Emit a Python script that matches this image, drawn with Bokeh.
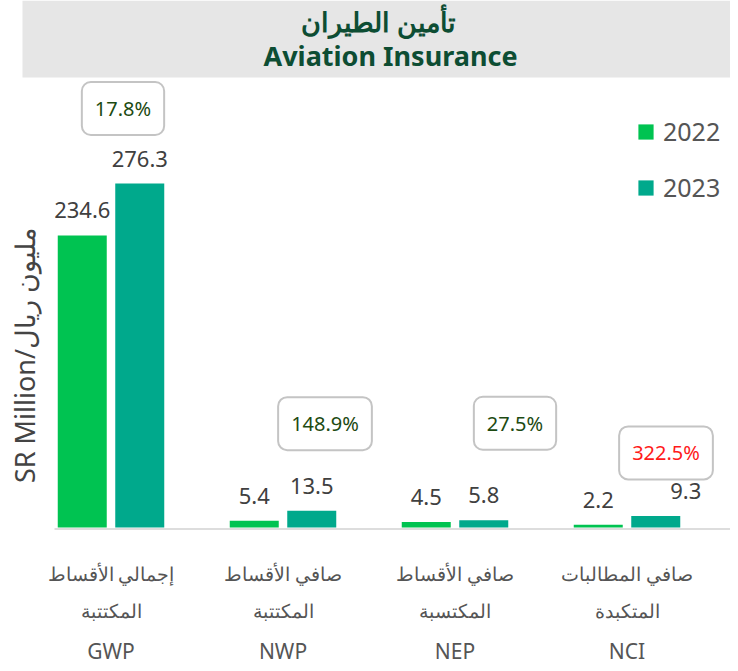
import math
from bokeh.plotting import figure
from bokeh.models import Range1d, ColumnDataSource, Label
from bokeh.core.properties import value
from bokeh.embed import file_html
from bokeh.resources import INLINE

# ---------------- data ----------------
codes = ["GWP", "NWP", "NEP", "NCI"]
names_ar_1 = ["إجمالي الأقساط", "صافي الأقساط", "صافي الأقساط", "صافي المطالبات"]
names_ar_2 = ["المكتتبة", "المكتتبة", "المكتسبة", "المتكبدة"]
values_2022 = [234.6, 5.4, 4.5, 2.2]
values_2023 = [276.3, 13.5, 5.8, 9.3]
growth = ["17.8%", "148.9%", "27.5%", "322.5%"]
growth_colors = ["#1d4a12", "#1d4a12", "#1d4a12", "#ff1a1a"]
title_ar = "تأمين الطيران"
title_en = "Aviation Insurance"
y_title = "SR Million/مليون ريال"

# ---------------- layout helpers (picture px -> data) ----------------
X0, XS = 110.5, 172.0   # picture x of first group, px per category
Y0, YS = 527.0, 1.245   # picture y of baseline, px per SR million

def dx(sx):
    return (sx - X0) / XS

def dy(sy):
    return (Y0 - sy) / YS

FONT = "Noto Sans"
GREY = "#555555"
DARK = "#404040"
C22 = "#00C351"
C23 = "#00A98C"
W, H = 730, 663

p = figure(width=W, height=H, output_backend="svg", toolbar_location=None,
           x_range=Range1d(dx(0), dx(W)), y_range=Range1d(dy(H), dy(0)),
           min_border=0, outline_line_color=None)
p.axis.visible = False
p.grid.visible = False
p.background_fill_color = "white"
p.border_fill_color = "white"

# title band
p.quad(left=[dx(22)], right=[dx(W)], top=[dy(0)], bottom=[dy(77)],
       fill_color="#e6e6e6", line_color=None)
p.text(x=[dx(378)], y=[dy(21)], text=[title_ar], text_align="center", text_baseline="middle",
       text_font=value(FONT), text_font_size="27px", text_font_style="bold", text_color="#0d4d33")
p.text(x=[dx(390)], y=[dy(55)], text=[title_en], text_align="center", text_baseline="middle",
       text_font=value(FONT), text_font_size="27px", text_font_style="bold", text_color="#0d4d33")

idx = list(range(len(codes)))
off = 28.75 / XS
bw = 49 / XS
label_nudge_23 = [0, 0, 0, 30]   # px, horizontal nudge of 2023 value labels
src = ColumnDataSource(dict(
    x22=[i - off for i in idx], x23=[i + off for i in idx],
    lx23=[i + off + label_nudge_23[i] / XS for i in idx],
    v22=values_2022, v23=values_2023,
    l22=[f"{v:.1f}" for v in values_2022], l23=[f"{v:.1f}" for v in values_2023],
    ly22=[v + 25 / YS for v in values_2022], ly23=[v + 25 / YS for v in values_2023],
))

# baseline
p.segment(x0=[dx(54)], x1=[dx(W)], y0=[dy(528.5)], y1=[dy(528.5)], line_color="#dddddd", line_width=2)

p.vbar(x="x22", top="v22", bottom=0, width=bw, source=src, fill_color=C22, line_color=None,
       legend_label="2022")
p.vbar(x="x23", top="v23", bottom=0, width=bw, source=src, fill_color=C23, line_color=None,
       legend_label="2023")

# value labels
p.text(x="x22", y="ly22", text="l22", source=src, text_align="center", text_baseline="middle",
       text_font=value(FONT), text_font_size="22px", text_color=DARK)
p.text(x="lx23", y="ly23", text="l23", source=src, text_align="center", text_baseline="middle",
       text_font=value(FONT), text_font_size="22px", text_color=DARK)

# growth boxes
box_dx = [12, 42, 60, 39]
box_rise = [75, 87, 97, 63]
for i in idx:
    top = max(values_2022[i], values_2023[i])
    lab = Label(x=i + box_dx[i] / XS, y=top + box_rise[i] / YS, text=growth[i],
                text_align="center", text_baseline="middle",
                text_font=FONT, text_font_size="20px", text_color=growth_colors[i],
                background_fill_color="white", border_line_color="#c4c4c4", border_line_width=2,
                border_radius=9, padding=13)
    p.add_layout(lab)

# category labels
for row, ys, fs in ((names_ar_1, 573, "19px"), (names_ar_2, 610, "19px"), (codes, 650, "21px")):
    p.text(x=idx, y=[dy(ys)] * len(idx), text=row, text_align="center", text_baseline="middle",
           text_font=value(FONT), text_font_size=fs, text_color=GREY)

# y title
p.text(x=[dx(24)], y=[dy(355)], text=[y_title], angle=math.pi / 2, text_align="center",
       text_baseline="middle", text_font=value(FONT), text_font_size="27px", text_color="#444444")

# legend
lg = p.legend[0]
lg.location = (636, 459)
lg.background_fill_alpha = 0
lg.border_line_color = None
lg.padding = 0
lg.margin = 0
lg.glyph_width = 19
lg.glyph_height = 19
lg.label_text_font = FONT
lg.label_text_font_size = "25px"
lg.label_text_color = GREY
lg.label_standoff = 8
lg.spacing = 22

open("out.html", "w").write(file_html(p, INLINE))
